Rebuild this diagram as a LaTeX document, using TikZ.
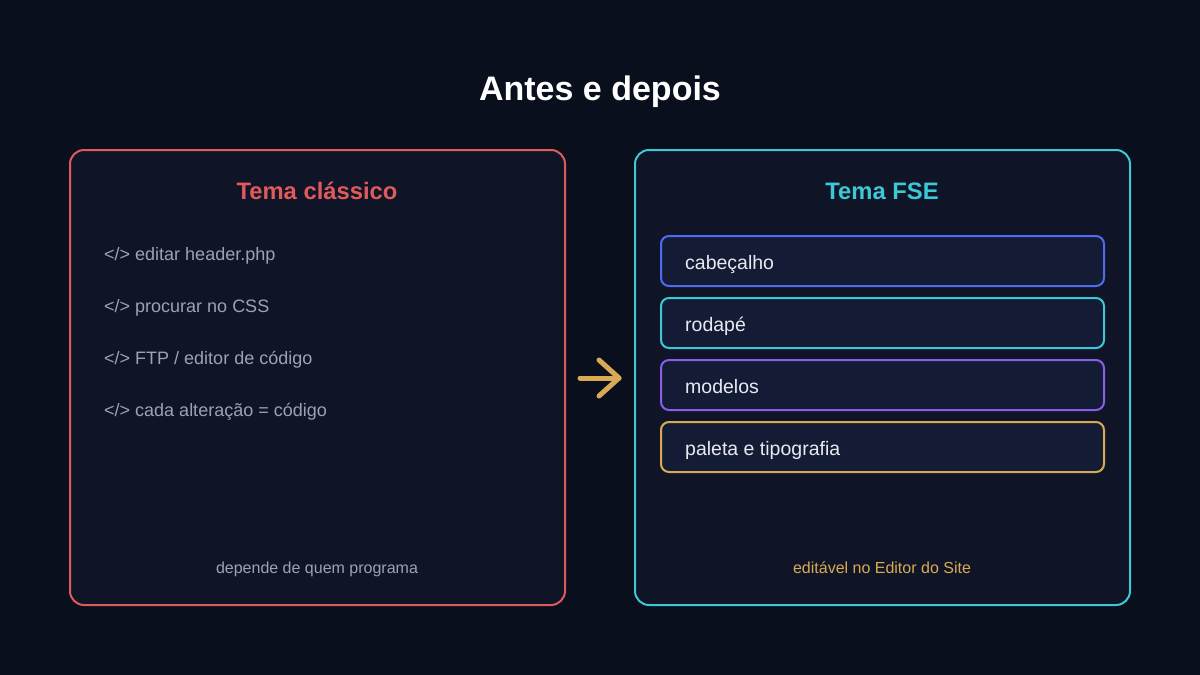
\documentclass[tikz,border=0pt]{standalone}
\usepackage{fontspec}
\setmainfont{Liberation Sans}
\usetikzlibrary{calc}
\definecolor{bg}{HTML}{0A0F1D}
\definecolor{card}{HTML}{0F1526}
\definecolor{inner}{HTML}{141C35}
\definecolor{redc}{HTML}{E05A5C}
\definecolor{cyanc}{HTML}{3CC8D4}
\definecolor{bluec}{HTML}{4F6CF0}
\definecolor{purplec}{HTML}{8A5CEA}
\definecolor{goldc}{HTML}{D9AA55}
\definecolor{grayt}{HTML}{9AA3B5}
\definecolor{whitet}{HTML}{E8EAF0}
\begin{document}
\begin{tikzpicture}[x=1pt,y=-1pt,
  cardbox/.style={draw, line width=2pt, rounded corners=14pt, fill=card},
  itembox/.style={draw, line width=2pt, rounded corners=8pt, fill=inner},
  cardtitle/.style={font=\fontsize{23.8}{28}\selectfont\bfseries, anchor=base, inner sep=0pt},
  listtext/.style={font=\fontsize{18}{21}\selectfont, text=grayt, anchor=base west, inner sep=0pt},
  itemtext/.style={font=\fontsize{19.5}{23}\selectfont, text=whitet, anchor=base west, inner sep=0pt},
  foottext/.style={font=\fontsize{16}{19}\selectfont, anchor=base, inner sep=0pt}]
\fill[bg] (0,0) rectangle (1200,675);
\useasboundingbox (0,0) rectangle (1200,675);
\node[font=\fontsize{34}{40}\selectfont\bfseries, text=white, inner sep=0pt, anchor=base] (title) at (600,100) {Antes e depois};
% left card
\draw[cardbox, draw=redc] (70,150) rectangle (565,605);
\coordinate (leftedge) at (580,378);
\node[cardtitle, text=redc] (lt) at (317,199) {Tema clássico};
\node[listtext] (l1) at (104,260) {</> editar header.php};
\node[listtext] (l2) at (104,312) {</> procurar no CSS};
\node[listtext] (l3) at (104,364) {</> FTP / editor de código};
\node[listtext] (l4) at (104,416) {</> cada alteração = código};
\node[foottext, text=grayt] (lf) at (317,573) {depende de quem programa};
% right card
\draw[cardbox, draw=cyanc] (635,150) rectangle (1130,605);
\coordinate (rightedge) at (619,378);
\node[cardtitle, text=cyanc] (rt) at (882,199) {Tema FSE};
\draw[itembox, draw=bluec] (661,236) rectangle (1104,286);
\node[itemtext] (r1) at (685,269) {cabeçalho};
\draw[itembox, draw=cyanc] (661,298) rectangle (1104,348);
\node[itemtext] (r2) at (685,331) {rodapé};
\draw[itembox, draw=purplec] (661,360) rectangle (1104,410);
\node[itemtext] (r3) at (685,393) {modelos};
\draw[itembox, draw=goldc] (661,422) rectangle (1104,472);
\node[itemtext] (r4) at (685,455) {paleta e tipografia};
\node[foottext, text=goldc] (rf) at (882,573) {editável no Editor do Site};
% arrow
\draw[goldc, line width=5pt, line cap=round, line join=round] (leftedge) -- (rightedge);
\draw[goldc, line width=5pt, line cap=round, line join=round] ($(rightedge)+(-20,-18)$) -- (rightedge) -- ($(rightedge)+(-20,18)$);
\end{tikzpicture}
\end{document}
